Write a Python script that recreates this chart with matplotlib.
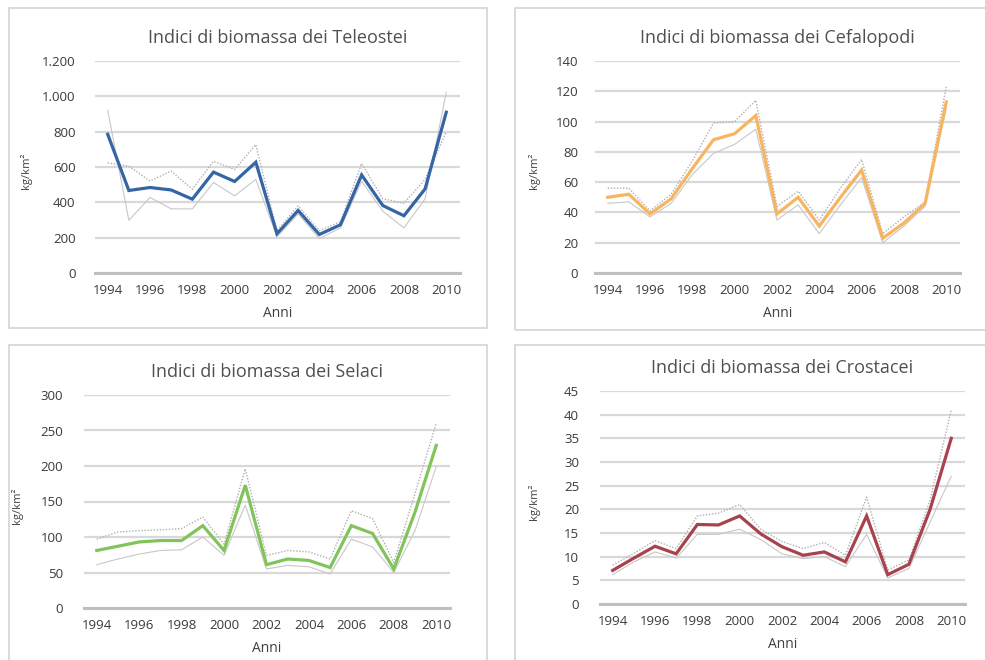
import numpy as np
import matplotlib.pyplot as plt
from matplotlib.patches import Rectangle

plt.rcParams['font.family'] = ['Open Sans', 'DejaVu Sans']

anni = list(range(1994, 2011))

# Teleostei (kg/km2): indice e due limiti
tel = [785, 467, 484, 470, 418, 571, 518, 627, 222, 354, 218, 273, 555, 382, 324, 476, 910]
tel_a = [921, 298, 428, 363, 363, 512, 437, 530, 205, 335, 195, 255, 520, 350, 255, 420, 1023]
tel_b = [623, 605, 521, 577, 474, 633, 586, 726, 240, 380, 240, 290, 620, 420, 395, 530, 800]

# Cefalopodi
cef = [50, 52, 39, 49, 69, 88, 92, 104, 39, 50, 31, 50, 68, 23, 33, 46, 113]
cef_sup = [56, 56, 41, 52, 74, 99, 100, 114, 44, 54, 35, 56, 75, 26, 37, 47, 123]
cef_inf = [46, 47, 37, 46, 65, 79, 85, 95, 35, 45, 26, 45, 63, 20, 31, 44, 109]

# Selaci
sel = [81, 87, 93, 95, 95, 116, 81, 173, 61, 69, 67, 57, 116, 105, 55, 135, 229]
sel_sup = [97, 107, 109, 110, 112, 128, 90, 196, 74, 81, 79, 69, 137, 126, 64, 161, 260]
sel_inf = [61, 69, 76, 81, 82, 100, 74, 145, 55, 60, 58, 48, 97, 86, 50, 109, 199]

# Crostacei
cro = [7.1, 9.7, 12.2, 10.6, 16.8, 16.7, 18.6, 14.8, 12.1, 10.3, 11.0, 8.9, 18.6, 6.2, 8.4, 20.0, 35.0]
cro_sup = [8.2, 10.7, 13.4, 11.7, 18.6, 19.2, 21.0, 15.8, 13.2, 11.7, 13.0, 10.3, 22.6, 7.2, 9.3, 22.0, 41.0]
cro_inf = [6.2, 8.9, 11.0, 9.7, 14.7, 14.7, 15.8, 13.6, 10.6, 9.6, 10.0, 7.9, 14.7, 5.5, 7.5, 17.3, 27.0]

titoli = ['Indici di biomassa dei Teleostei', 'Indici di biomassa dei Cefalopodi',
          'Indici di biomassa dei Selaci', 'Indici di biomassa dei Crostacei']
colori = ['#3565a5', '#f7b560', '#82c45c', '#a8424f']
yticks = [[0, 200, 400, 600, 800, 1000, 1200],
          [0, 20, 40, 60, 80, 100, 120, 140],
          [0, 50, 100, 150, 200, 250, 300],
          [0, 5, 10, 15, 20, 25, 30, 35, 40, 45]]
ylabels_tel = ['0', '200', '400', '600', '800', '1.000', '1.200']

W, H = 985, 660
fig = plt.figure(figsize=(W / 100, H / 100), dpi=100)

def px_axes(x0, y0, x1, y1):
    return fig.add_axes([x0 / W, 1 - y1 / H, (x1 - x0) / W, (y1 - y0) / H])

# riquadri grigi attorno ai grafici
for (x0, y0, x1, y1) in [(9, 8, 487, 328), (515, 8, 995, 330), (9, 345, 487, 670), (515, 345, 995, 670)]:
    fig.patches.append(Rectangle((x0 / W, 1 - y1 / H), (x1 - x0) / W, (y1 - y0) / H,
                                 transform=fig.transFigure, fill=False,
                                 edgecolor='#d4d4d4', linewidth=1.2))

axes = [px_axes(95, 61, 460, 273), px_axes(595, 61, 960, 273),
        px_axes(84, 395, 450, 608), px_axes(600, 391, 965, 604)]
serie = [(tel, tel_a, tel_b), (cef, cef_inf, cef_sup), (sel, sel_inf, sel_sup), (cro, cro_inf, cro_sup)]
ylab_x = [-0.173, -0.151, -0.167, -0.164]
ypad = [14, 12, 15, 15]

for i, ax in enumerate(axes):
    main, lim1, lim2 = serie[i]
    ax.plot(anni, lim1, color='#c8c8c8', linewidth=0.8, zorder=3)
    ax.plot(anni, lim2, color='#b0b0b0', linewidth=1.0, linestyle=(0, (1, 1.2)), zorder=3)
    ax.plot(anni, main, color=colori[i], linewidth=2.3, zorder=4, solid_joinstyle='miter')

    ax.set_xlim(1993.4, 2010.65)
    ax.set_ylim(0, yticks[i][-1])
    ax.set_yticks(yticks[i])
    if i == 0:
        ax.set_yticklabels(ylabels_tel)
    ax.set_xticks(range(1994, 2011, 2))
    ax.grid(axis='y', color='#d9d9d9', linewidth=1.6, zorder=0)
    for s in ['top', 'right', 'left']:
        ax.spines[s].set_visible(False)
    ax.spines['bottom'].set_color('#bfbfbf')
    ax.spines['bottom'].set_linewidth(2.2)
    ax.tick_params(length=0, labelsize=9.5, labelcolor='#3a3a3a')
    ax.tick_params(axis='y', pad=ypad[i])
    ax.tick_params(axis='x', pad=8)
    ax.set_title(titoli[i], fontsize=13, color='#505050', pad=13)
    ax.set_xlabel('Anni', fontsize=10, color='#404040')
    ax.xaxis.set_label_coords(0.5, -0.155)
    ax.set_ylabel('kg/km²', fontsize=8, color='#404040')
    ax.yaxis.set_label_coords(ylab_x[i], 0.48)

fig.savefig('out.png', dpi=100, facecolor='white')
